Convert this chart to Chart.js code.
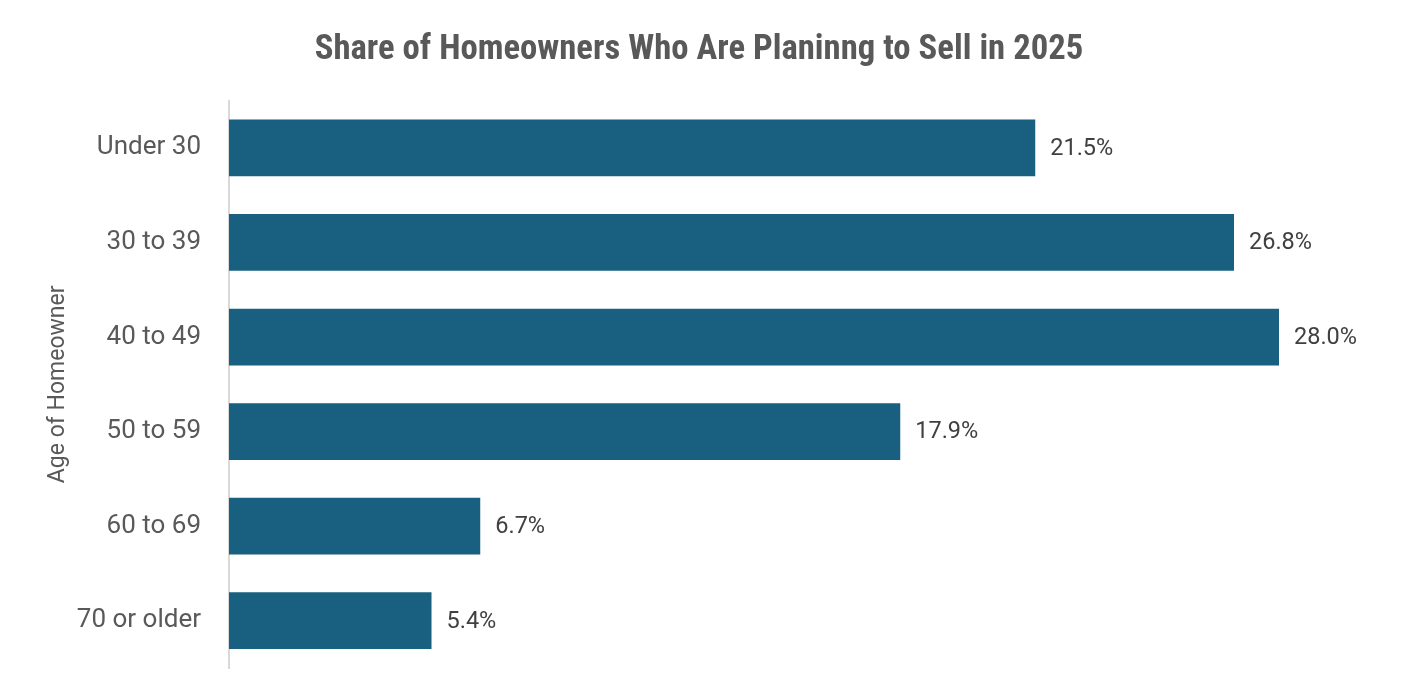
<!DOCTYPE html>
<html>
<head>
<meta charset="utf-8">
<script src="https://cdn.jsdelivr.net/npm/chart.js@4.4.1/dist/chart.umd.min.js"></script>
<style>
html,body{margin:0;padding:0;background:#ffffff;}
#wrap{width:1412px;height:694px;position:relative;}
</style>
</head>
<body>
<div id="wrap"><canvas id="c" width="1412" height="694"></canvas></div>
<script>
const categories = ["Under 30", "30 to 39", "40 to 49", "50 to 59", "60 to 69", "70 or older"];
const shares = [21.5, 26.8, 28.0, 17.9, 6.7, 5.4];
const titleText = "Share of Homeowners Who Are Planinng to Sell in 2025";
const axisTitle = "Age of Homeowner";

const valueLabels = {
  id: 'valueLabels',
  afterDatasetsDraw(chart) {
    const ctx = chart.ctx;
    const meta = chart.getDatasetMeta(0);
    ctx.save();
    ctx.font = '23.5px Roboto, "Open Sans", sans-serif';
    ctx.fillStyle = '#404040';
    ctx.textAlign = 'left';
    ctx.textBaseline = 'middle';
    meta.data.forEach((bar, i) => {
      ctx.fillText(shares[i].toFixed(1) + '%', bar.x + 15, bar.y + 1);
    });
    ctx.restore();
  }
};

new Chart(document.getElementById('c'), {
  type: 'bar',
  data: {
    labels: categories,
    datasets: [{
      data: shares,
      backgroundColor: '#185f80',
      borderWidth: 0,
      barPercentage: 0.6,
      categoryPercentage: 1.0
    }]
  },
  options: {
    indexAxis: 'y',
    responsive: false,
    animation: false,
    layout: { padding: { left: 44, right: 58, top: 0, bottom: 26 } },
    plugins: {
      legend: { display: false },
      tooltip: { enabled: false },
      title: {
        display: true,
        text: titleText,
        color: '#595959',
        font: { family: '"Liberation Sans Narrow", "Roboto Condensed", Roboto, sans-serif', size: 34.7, weight: 'bold' },
        padding: { top: 30, bottom: 29 }
      }
    },
    scales: {
      x: {
        display: false,
        min: 0,
        max: 30
      },
      y: {
        grid: { display: false, drawTicks: false },
        border: { display: true, color: '#d9d9d9', width: 2 },
        ticks: {
          color: '#595959',
          font: { family: 'Roboto, "Open Sans", sans-serif', size: 26 },
          padding: 28
        },
        title: {
          display: true,
          text: axisTitle,
          color: '#595959',
          font: { family: 'Roboto, "Open Sans", sans-serif', size: 23 },
          padding: { top: 0, bottom: 10 }
        },
        afterFit(scale) {
          scale.width = 185;
          scale.paddingTop = 0;
          scale.paddingBottom = 0;
        }
      }
    }
  },
  plugins: [valueLabels]
});
</script>
</body>
</html>
